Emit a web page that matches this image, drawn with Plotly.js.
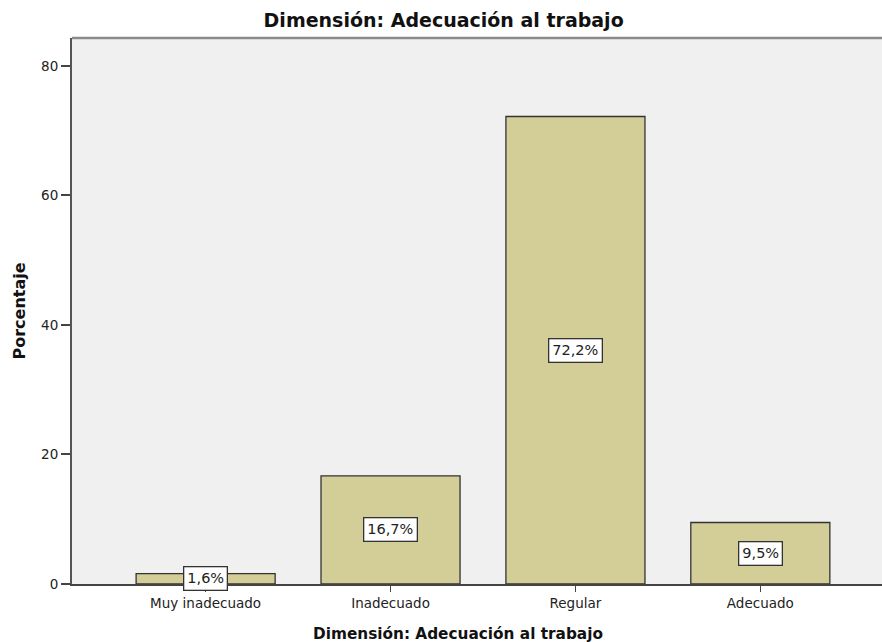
<!DOCTYPE html>
<html>
<head>
<meta charset="utf-8">
<script src="https://cdn.plot.ly/plotly-3.0.1.min.js"></script>
<style>html,body{margin:0;padding:0;background:#fff;}#chart{width:882px;height:642px;}</style>
</head>
<body>
<div id="chart"></div>
<script>
var categories = ["Muy inadecuado", "Inadecuado", "Regular", "Adecuado"];
var percentages = [1.6, 16.7, 72.2, 9.5];
var yTickValues = [0, 20, 40, 60, 80];
var chartTitle = "Dimensión: Adecuación al trabajo";
var xTitle = "Dimensión: Adecuación al trabajo";
var yTitle = "Porcentaje";

function fmt(v) { return v.toFixed(1).replace('.', ',') + '%'; }

var trace = {
  type: 'bar',
  x: categories,
  y: percentages,
  width: 0.752,
  marker: { color: '#d3ce98', line: { color: '#333333', width: 1.3 } },
  hoverinfo: 'none'
};

var annotations = categories.map(function (c, i) {
  return {
    x: c, y: percentages[i] / 2, xref: 'x', yref: 'y',
    text: fmt(percentages[i]), showarrow: false,
    font: { family: 'DejaVu Sans', size: 14.5, color: '#222' },
    bgcolor: '#ffffff', bordercolor: '#333333', borderwidth: 1.3, borderpad: 3
  };
});

annotations.push({
  text: xTitle, showarrow: false,
  xref: 'paper', yref: 'paper', x: 0.4765, y: -0.0916,
  xanchor: 'center', yanchor: 'middle',
  font: { family: 'DejaVu Sans', size: 15.3, color: '#111', weight: 'bold' }
});

var layout = {
  width: 882, height: 642,
  margin: { l: 72, r: 0, t: 38, b: 58, pad: 0 },
  paper_bgcolor: '#ffffff',
  plot_bgcolor: '#f0f0f0',
  showlegend: false,
  title: {
    text: chartTitle,
    font: { family: 'DejaVu Sans', size: 19, color: '#111', weight: 'bold' },
    x: 0.503, xref: 'container', xanchor: 'center',
    y: 1 - 20 / 642, yref: 'container', yanchor: 'middle'
  },
  xaxis: {
    type: 'category',
    range: [-0.7227, 3.658],
    showgrid: false, zeroline: false,
    showline: true, linecolor: '#444', linewidth: 2,
    ticks: 'outside', ticklen: 6, tickwidth: 1.5, tickcolor: '#444',
    tickfont: { family: 'DejaVu Sans', size: 13.5, color: '#222' }
  },
  yaxis: {
    range: [0, 84.32],
    tickvals: yTickValues,
    showgrid: false, zeroline: false,
    showline: true, linecolor: '#555', linewidth: 2,
    ticks: 'outside', ticklen: 9, tickwidth: 2, tickcolor: '#444',
    tickfont: { family: 'DejaVu Sans', size: 13.5, color: '#222' },
    title: { text: yTitle, standoff: 12,
      font: { family: 'DejaVu Sans', size: 16, color: '#111', weight: 'bold' } }
  },
  shapes: [{
    type: 'line', xref: 'paper', yref: 'paper', x0: 0, x1: 1, y0: 1, y1: 1,
    line: { color: '#8a8a8a', width: 2.5 }
  }],
  annotations: annotations
};

Plotly.newPlot('chart', [trace], layout, { displayModeBar: false, staticPlot: true });
</script>
</body>
</html>
